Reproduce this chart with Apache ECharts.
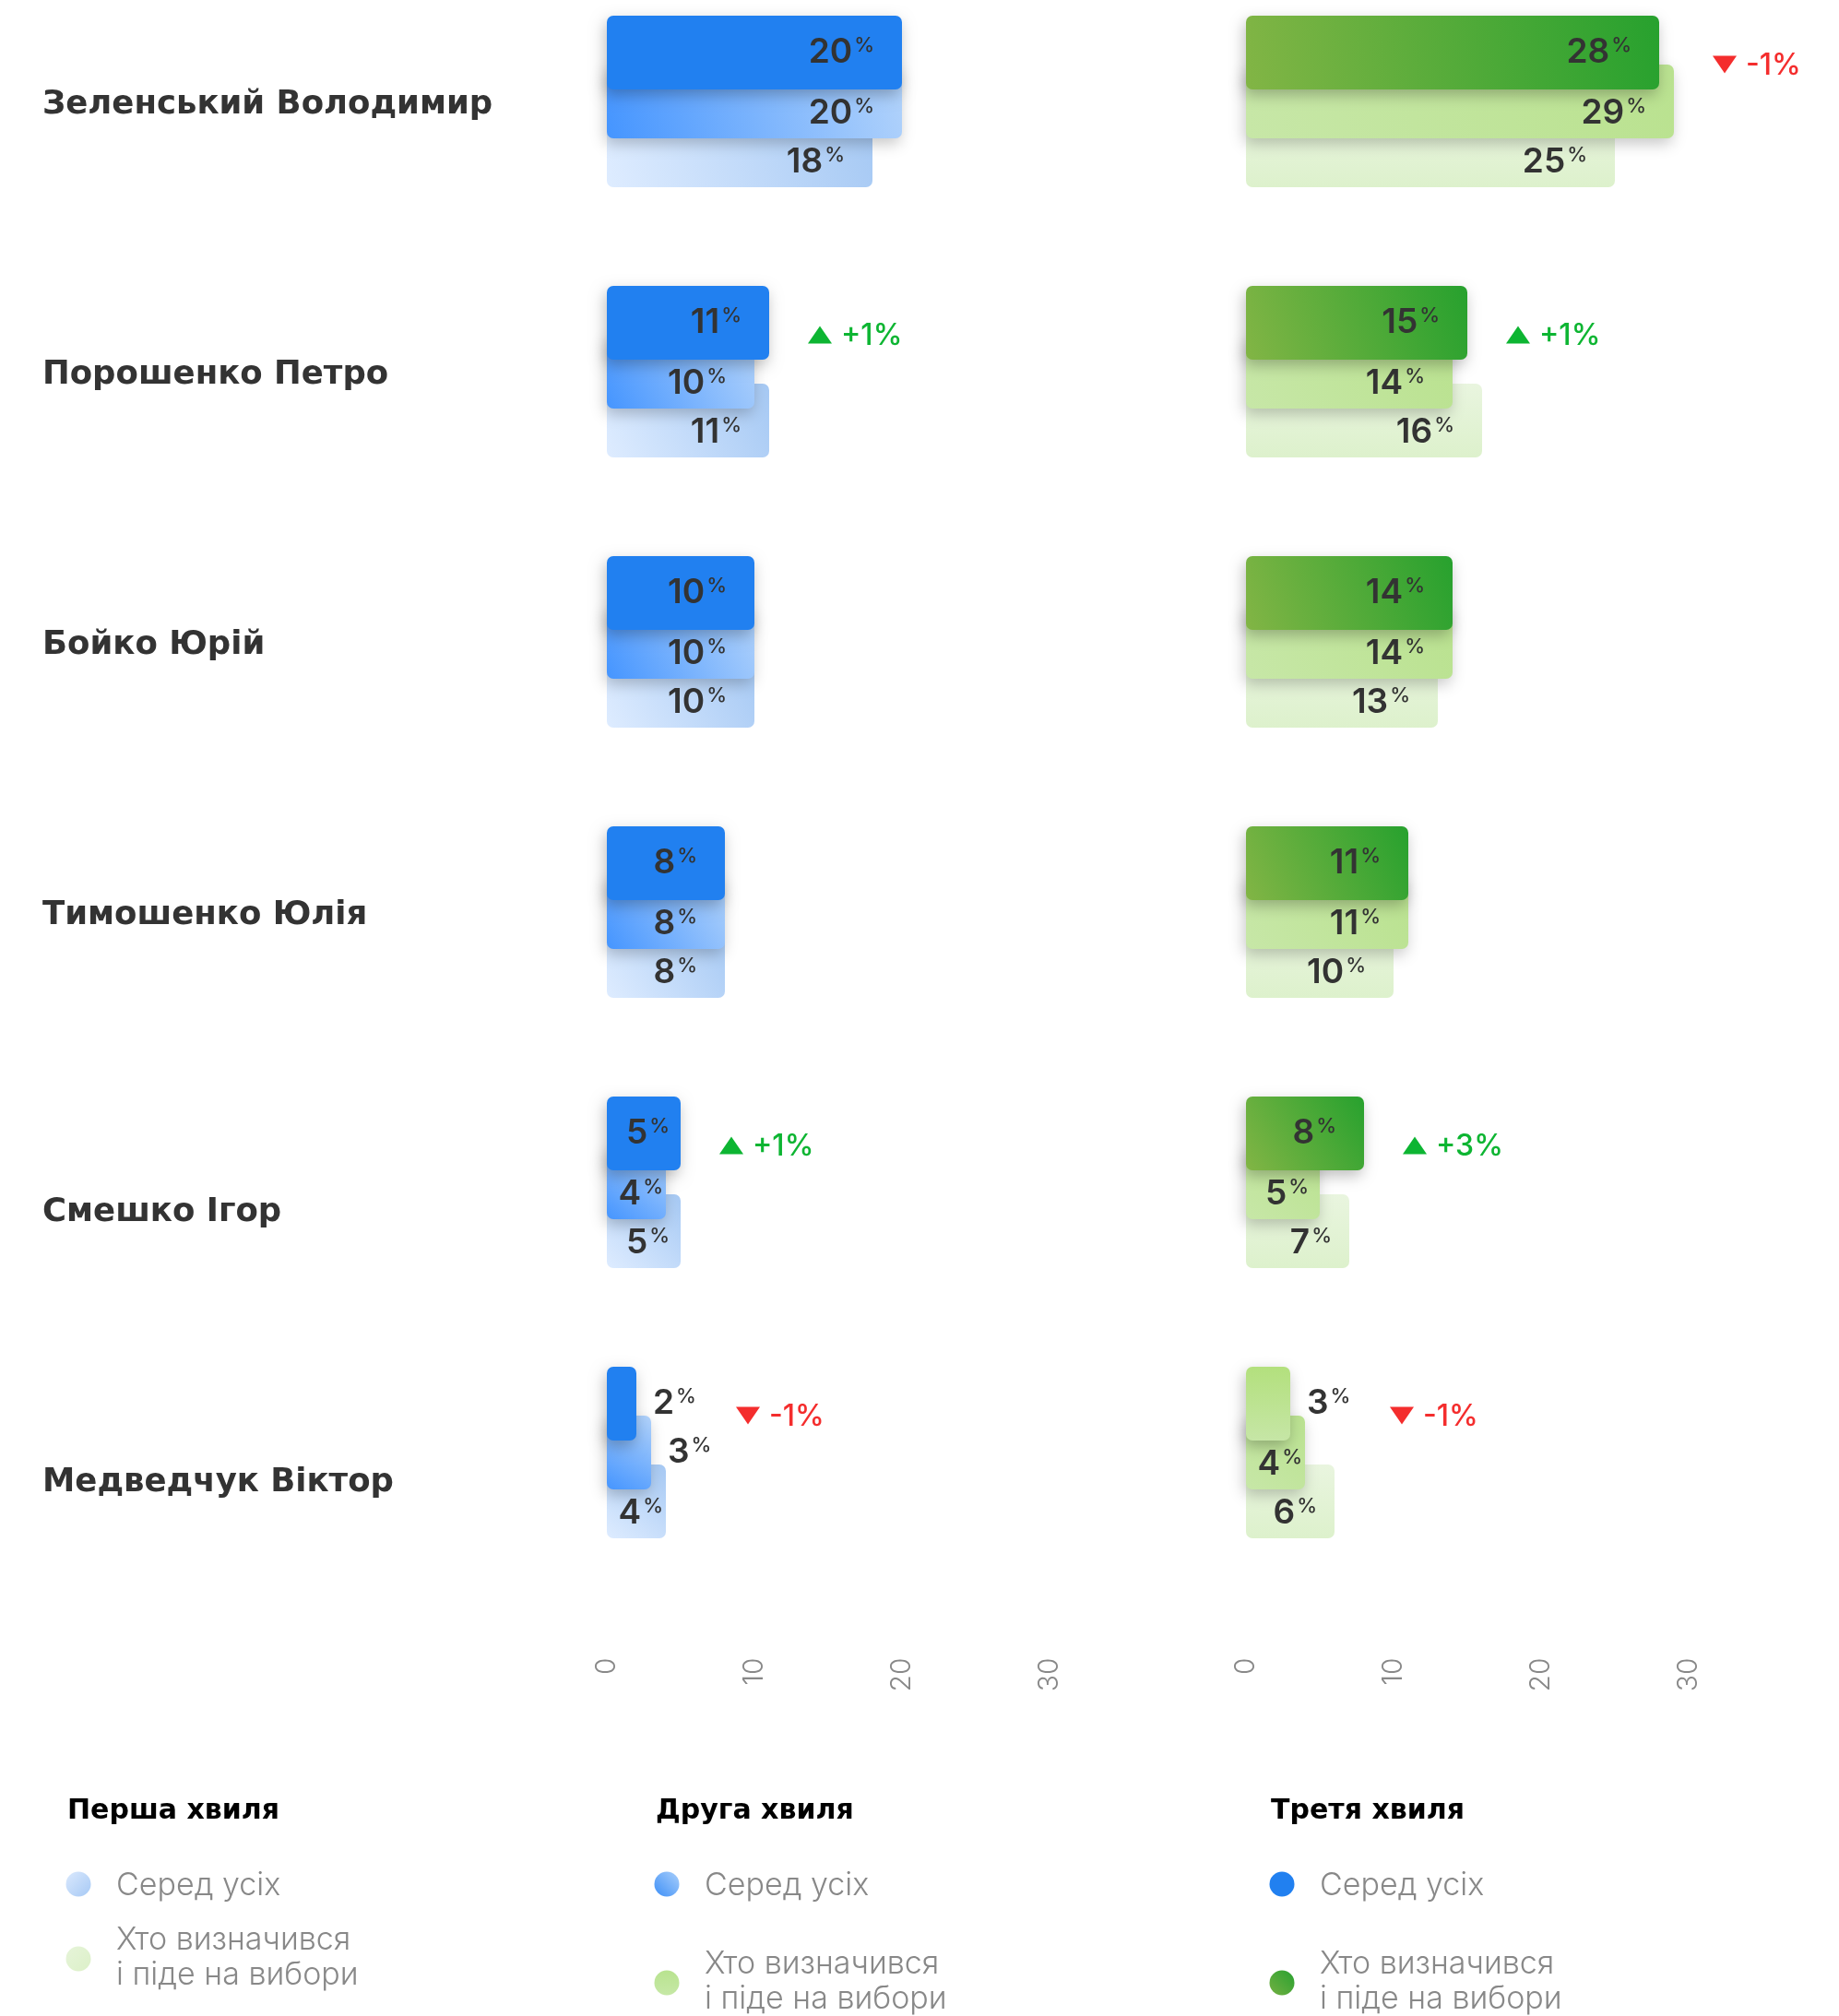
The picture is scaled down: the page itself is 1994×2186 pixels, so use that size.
<!DOCTYPE html>
<html>
<head>
<meta charset="utf-8">
<script src="https://cdn.jsdelivr.net/npm/echarts@6/dist/echarts.min.js"></script>
<style>
  html, body { margin: 0; padding: 0; background: #fff; }
  #chart { width: 1994px; height: 2186px; }
</style>
</head>
<body>
<div id="chart"></div>
<script>
// Candidates, top to bottom
const candidates = ['Зеленський Володимир', 'Порошенко Петро', 'Бойко Юрій', 'Тимошенко Юлія', 'Смешко Ігор', 'Медведчук Віктор'];

// Серед усіх — share among all respondents, %
const allWave1 = [18, 11, 10, 8, 5, 4];
const allWave2 = [20, 10, 10, 8, 4, 3];
const allWave3 = [20, 11, 10, 8, 5, 2];
const allChange = [0, 1, 0, 0, 1, -1];

// Хто визначився і піде на вибори — share among decided voters, %
const decidedWave1 = [25, 16, 13, 10, 7, 6];
const decidedWave2 = [29, 14, 14, 11, 5, 4];
const decidedWave3 = [28, 15, 14, 11, 8, 3];
const decidedChange = [-1, 1, 0, 0, 3, -1];

// Value axis ticks
const axisTicks = [0, 10, 20, 30];

// Legend texts
const waveTitles = ['Перша хвиля', 'Друга хвиля', 'Третя хвиля'];
const groupNames = ['Серед усіх', 'Хто визначився\nі піде на вибори'];

// ---------------------------------------------------------------------------
const FONT = "Inter, 'Noto Sans', sans-serif";
const HEAVY = "'DejaVu Sans', Inter, sans-serif";
const chart = echarts.init(document.getElementById('chart'), null, { renderer: 'canvas' });
const G = echarts.graphic;
const grad = (x, y, x2, y2, c0, c1) => new G.LinearGradient(x, y, x2, y2, [
  { offset: 0, color: c0 }, { offset: 1, color: c1 }
]);

// fills per wave: [first, second, third]
const blueFill = () => [grad(0, 1, 1, 0, '#deecff', '#a6c9f4'), grad(0, 1, 1, 0, '#4595ff', '#b2d3fb'), '#2180f0'];
const greenFill = () => [grad(0, 0, 0, 1, '#e9f5df', '#ddf1cc'), grad(1, 0, 0, 1, '#bae290', '#c7e7a7'), grad(0, 1, 1, 0, '#82b545', '#27a12e')];
const mutedGreen = () => grad(0, 0, 0, 1, '#b3e07d', '#c6e6a6');
// rows of the decided panel whose newest bar uses the muted fill
const mutedRows = [5];

const shadows = [
  { shadowBlur: 0, shadowColor: 'rgba(0,0,0,0)' },
  { shadowBlur: 16, shadowColor: 'rgba(0,0,0,0.22)', shadowOffsetX: -2, shadowOffsetY: 6 },
  { shadowBlur: 16, shadowColor: 'rgba(0,0,0,0.26)', shadowOffsetX: -2, shadowOffsetY: 6 }
];

const valueRich = {
  v: { fontFamily: FONT, fontSize: 37, fontWeight: 600, color: '#333', lineHeight: 38 },
  p: { fontFamily: FONT, fontSize: 22, fontWeight: 500, color: '#333', lineHeight: 22, verticalAlign: 'top', padding: [0, 0, 0, 2] }
};

function valueLabel(v, layer) {
  const outside = v < 4;
  let dist = 30;
  if (outside) dist = 18;
  else if (v < 5) dist = 3;
  else if (v < 6) dist = 12;
  else if (v < 8) dist = 19;
  return {
    show: true,
    position: outside ? 'right' : 'insideRight',
    distance: dist,
    offset: (outside || layer === 2) ? [0, 0] : [0, 13],
    formatter: '{v|' + v + '}{p|%}',
    rich: valueRich
  };
}

function barSeries(values, layer, gridIdx, fill, overrides) {
  return {
    type: 'bar',
    xAxisIndex: gridIdx,
    yAxisIndex: gridIdx,
    barWidth: 80,
    barGap: '-33.75%',
    z: 3 + layer,
    silent: true,
    animation: false,
    itemStyle: Object.assign({ color: fill, borderRadius: 7 }, shadows[layer]),
    data: values.map((v, i) => {
      const item = { value: v, label: valueLabel(v, layer) };
      if (overrides && overrides.indexOf(i) >= 0) item.itemStyle = { color: mutedGreen() };
      return item;
    })
  };
}

// change markers, placed right of the two upper bars of a row
function indicatorSeries(latest, previous, change, gridIdx) {
  return {
    type: 'custom',
    xAxisIndex: gridIdx,
    yAxisIndex: gridIdx,
    clip: false,
    silent: true,
    animation: false,
    z: 20,
    encode: { x: 0, y: 1 },
    data: latest.map((v, i) => [v, i, change[i], previous[i]]).filter(d => d[2] !== 0),
    renderItem(params, api) {
      const v = api.value(0);
      const row = api.value(1);
      const d = api.value(2);
      const p = api.coord([v, row]);
      const pPrev = api.coord([api.value(3), row]);
      const x = Math.max(p[0] + (v < 4 ? 66 : 0), pPrev[0]) + 42;
      const y = p[1] - 40;
      const up = d > 0;
      const color = up ? '#0db532' : '#f42d2d';
      const pts = up
        ? [[x, y + 9.5], [x + 26, y + 9.5], [x + 13, y - 9.5]]
        : [[x, y - 9.5], [x + 26, y - 9.5], [x + 13, y + 9.5]];
      return {
        type: 'group',
        children: [
          { type: 'polygon', shape: { points: pts }, style: { fill: color } },
          { type: 'text', x: x + 36, y: y + 1, style: {
              text: (up ? '+' : '') + d + '%', fill: color,
              font: '500 32px ' + FONT, verticalAlign: 'middle', align: 'left' } }
        ]
      };
    }
  };
}

const GRID_LEFT = [658, 1351];
const UNIT = 16;          // px per percentage point
const BAND = 293;         // px per candidate row
const grids = GRID_LEFT.map(left => ({
  left: left,
  width: (axisTicks[axisTicks.length - 1] - axisTicks[0]) * UNIT,
  top: 110 - BAND / 2,
  height: BAND * candidates.length,
  containLabel: false,
  outerBoundsMode: 'none'
}));

const xAxes = GRID_LEFT.map((_, i) => ({
  type: 'value',
  gridIndex: i,
  min: axisTicks[0],
  max: axisTicks[axisTicks.length - 1],
  interval: axisTicks[1] - axisTicks[0],
  axisLine: { show: false },
  axisTick: { show: false },
  splitLine: { show: false },
  axisLabel: {
    rotate: 90, margin: 76, color: '#888', fontFamily: FONT, fontSize: 30, fontWeight: 300
  }
}));

// candidate names; the two last rows sit a little lower
const nameFont = { color: '#333', fontFamily: HEAVY, fontSize: 35.5, fontWeight: 700 };
const loweredRows = [4, 5];
const yAxes = GRID_LEFT.map((_, i) => ({
  type: 'category',
  gridIndex: i,
  inverse: true,
  show: i === 0,
  data: candidates,
  axisLine: { show: false },
  axisTick: { show: false },
  splitLine: { show: false },
  axisLabel: {
    align: 'left',
    margin: 612,
    formatter: (name, idx) => (loweredRows.indexOf(idx) >= 0 ? '{low|' : '{n|') + name + '}',
    rich: {
      n: Object.assign({ padding: [8, 0, 0, 0] }, nameFont),
      low: Object.assign({ padding: [66, 0, 0, 0] }, nameFont)
    }
  }
}));

const bf = blueFill();
const gf = greenFill();
const series = [
  // among all respondents: newest wave on top
  barSeries(allWave3, 2, 0, bf[2]),
  barSeries(allWave2, 1, 0, bf[1]),
  barSeries(allWave1, 0, 0, bf[0]),
  indicatorSeries(allWave3, allWave2, allChange, 0),
  // decided voters
  barSeries(decidedWave3, 2, 1, gf[2], mutedRows),
  barSeries(decidedWave2, 1, 1, gf[1]),
  barSeries(decidedWave1, 0, 1, gf[0]),
  indicatorSeries(decidedWave3, decidedWave2, decidedChange, 1)
];

// Legend: one column per wave
const legendCols = [73, 711, 1378];
const legendFills = [
  [grad(0, 0, 1, 1, '#dbe9fd', '#a6c9f5'), grad(0, 0, 1, 1, '#e6f4d9', '#dcf0c8')],
  [grad(1, 0, 0, 1, '#a9cffb', '#3d8ff7'), grad(0, 0, 0, 1, '#b8e38f', '#c6e8a6')],
  ['#2180f0', grad(1, 0, 0, 1, '#28a12f', '#74b043')]
];
const secondItemShift = [0, 26, 26];
const graphics = [];
legendCols.forEach((x, c) => {
  graphics.push({ type: 'text', x: x, y: 1964, silent: true,
    style: { text: waveTitles[c], fill: '#000', font: '700 30px ' + HEAVY, verticalAlign: 'middle' } });
  // first group
  graphics.push({ type: 'circle', shape: { cx: x + 12, cy: 2043, r: 13.5 }, silent: true,
    style: { fill: legendFills[c][0] } });
  graphics.push({ type: 'text', x: x + 53, y: 2045, silent: true,
    style: { text: groupNames[0], fill: '#888', font: '300 34px ' + FONT, verticalAlign: 'middle' } });
  // second group
  const s = secondItemShift[c];
  graphics.push({ type: 'circle', shape: { cx: x + 12, cy: 2124 + s, r: 13.5 }, silent: true,
    style: { fill: legendFills[c][1] } });
  graphics.push({ type: 'text', x: x + 53, y: 2085 + s, silent: true,
    style: { text: groupNames[1], fill: '#888', font: '300 34px ' + FONT, lineHeight: 38, verticalAlign: 'top' } });
});

chart.setOption({
  backgroundColor: '#fff',
  animation: false,
  grid: grids,
  xAxis: xAxes,
  yAxis: yAxes,
  series: series,
  graphic: graphics
});
</script>
</body>
</html>
